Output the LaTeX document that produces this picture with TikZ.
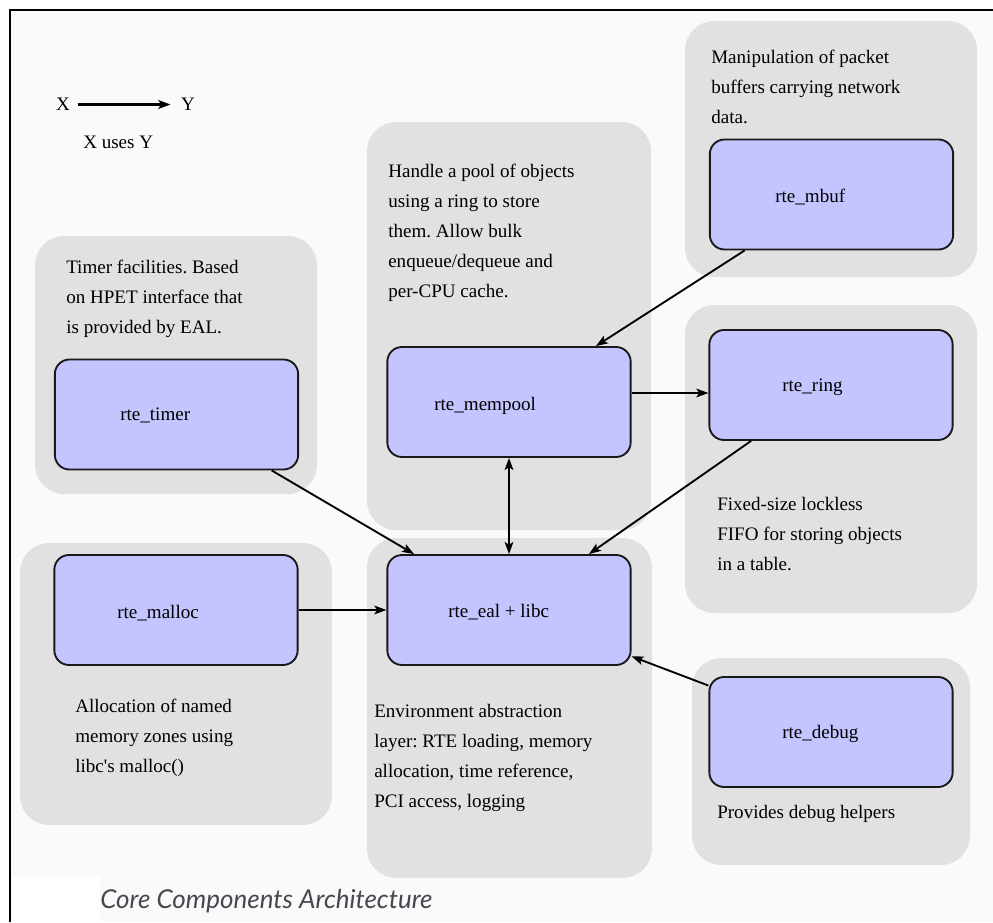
\documentclass[tikz,border=0pt]{standalone}
\usepackage{fontspec}
\setmainfont{Liberation Serif}
\newfontfamily\capfont{Lato}
\usetikzlibrary{arrows.meta}
\definecolor{pagebg}{RGB}{250,250,250}
\definecolor{groupbg}{RGB}{225,225,225}
\definecolor{modfill}{RGB}{196,196,255}
\definecolor{captext}{RGB}{70,72,80}
\frenchspacing
\begin{document}
\begin{tikzpicture}[x=0.75pt,y=-0.75pt,
  group/.style={fill=groupbg, rounded corners=22pt},
  module/.style={draw=black!90, line width=1.4pt, fill=modfill, rounded corners=11pt,
    minimum width=182.5pt, minimum height=82.5pt, inner sep=0pt},
  modlabel/.style={anchor=base west, inner sep=0pt},
  % multi-line descriptions: anchored at the baseline of their last line
  desc/.style={anchor=base west, align=left, inner sep=0pt},
  edge/.style={line width=1.4pt, -{Stealth[length=9pt,width=6.5pt,inset=2pt]}},
  every node/.style={font=\fontsize{14.3pt}{22.5pt}\selectfont}
]
% page and frame
\useasboundingbox (0,0) rectangle (993,922);
\fill[white] (0,0) rectangle (993,922);
\fill[pagebg] (9,9) rectangle (993,922);
\fill[white] (11,877) rectangle (100,922);
\draw[line width=1.5pt] (9.5,922) -- (9.5,9.5) -- (993,9.5);

% grey component groups
\fill[group] (35,236) rectangle (317,494);
\fill[group] (20,543) rectangle (332,825);
\fill[group] (367,122) rectangle (651,530);
\fill[group] (367,538) rectangle (652,878);
\fill[group] (685,21) rectangle (977,277);
\fill[group] (685,305) rectangle (977,613);
\fill[group] (692,658) rectangle (970,865);

% legend
\node[inner sep=0pt, outer sep=6pt] (lx) at (63,104.5) {X};
\node[inner sep=0pt, outer sep=6pt] (ly) at (188,104.5) {Y};
\draw[edge, line width=1.8pt, shorten >=2pt] (lx.east) -- (ly.west);
\node[modlabel] (legtext) at (83,148) {X uses Y};

% modules
\node[module] (timer) at (176.5,414.5) {};
\node[module] (malloc) at (176,610) {};
\node[module] (mempool) at (509,402) {};
\node[module] (eal) at (509,610) {};
\node[module] (mbuf) at (831.5,194.5) {};
\node[module] (ring) at (831,385) {};
\node[module] (debug) at (831,732) {};

\node[modlabel] (timerlbl) at (120,420) {rte\_timer};
\node[modlabel] (malloclbl) at (117,618) {rte\_malloc};
\node[modlabel] (mempoollbl) at (434,410) {rte\_mempool};
\node[modlabel] (eallbl) at (448,617) {rte\_eal + libc};
\node[modlabel] (mbuflbl) at (775,202) {rte\_mbuf};
\node[modlabel] (ringlbl) at (782,391) {rte\_ring};
\node[modlabel] (debuglbl) at (782,738) {rte\_debug};

% descriptions
\node[desc] (timerdesc) at (66,333) {Timer facilities. Based\\on HPET interface that\\is provided by EAL.};
\node[desc] (mempooldesc) at (388,297) {Handle a pool of objects\\using a ring to store\\them. Allow bulk\\enqueue/dequeue and\\per-CPU cache.};
\node[desc] (mbufdesc) at (711,123) {Manipulation of packet\\buffers carrying network\\data.};
\node[desc] (ringdesc) at (717,570) {Fixed-size lockless\\FIFO for storing objects\\in a table.};
\node[desc] (mallocdesc) at (75,772) {Allocation of named\\memory zones using\\libc\textquotesingle s malloc()};
\node[desc] (ealdesc) at (374,807) {Environment abstraction\\layer: RTE loading, memory\\allocation, time reference,\\PCI access, logging};
\node[desc] (debugdesc) at (717,818) {Provides debug helpers};

% dependencies
\draw[edge] (mbuf) -- (mempool);
\coordinate (mpr) at ([yshift=6.75pt]mempool.east);
\draw[edge] (mpr) -- (mpr -| ring.west);
\draw[edge, {Stealth[length=9pt,width=6.5pt,inset=2pt]}-{Stealth[length=9pt,width=6.5pt,inset=2pt]}] (mempool) -- (eal);
\draw[edge] (timer) -- (eal);
\draw[edge] (ring) -- (eal);
\draw[edge] (malloc) -- (eal);
\draw[edge] (debug) -- (eal);

% caption
\node[anchor=base west, inner sep=0pt, text=captext,
  font=\capfont\itshape\fontsize{19.5pt}{22pt}\selectfont] (caption) at (100,908) {Core Components Architecture};
\end{tikzpicture}
\end{document}
